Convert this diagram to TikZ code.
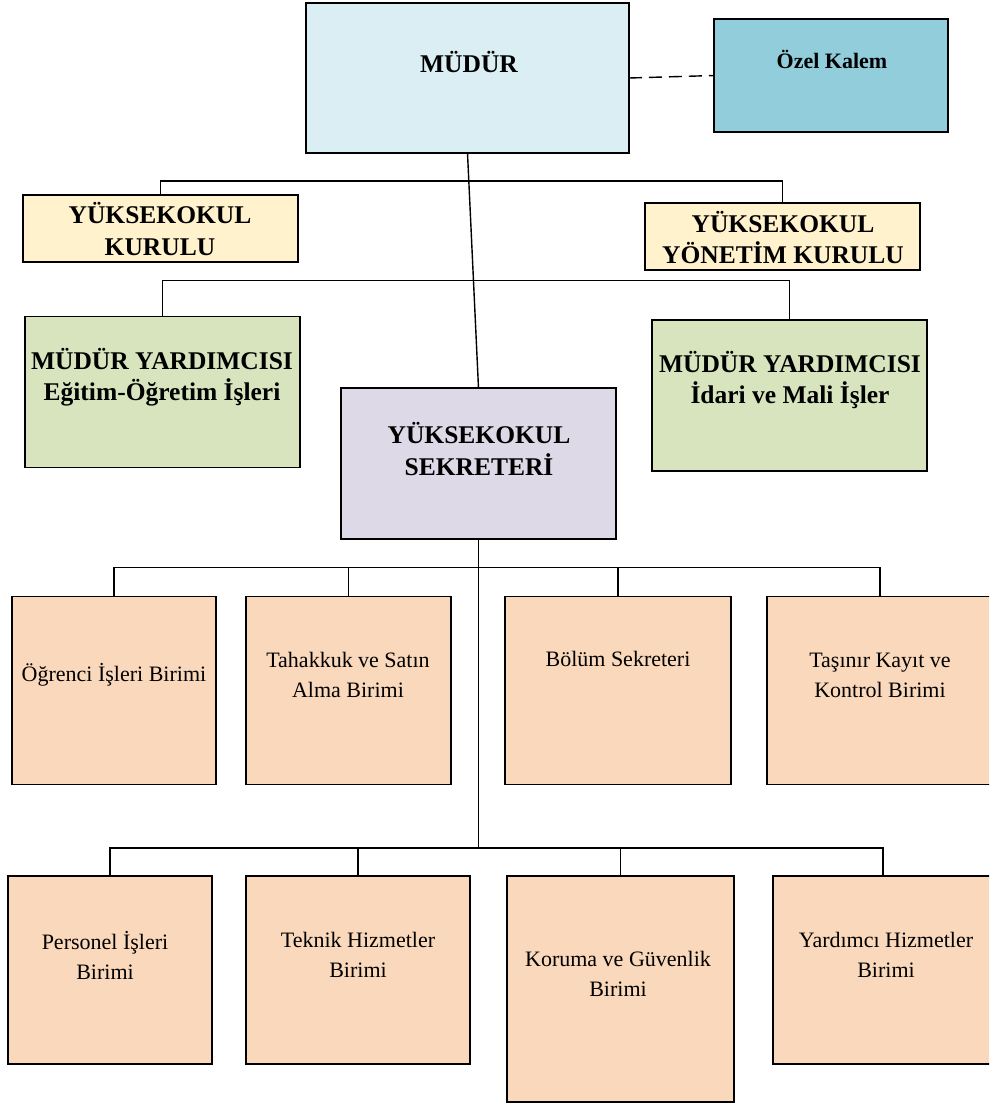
\documentclass[tikz,border=0pt]{standalone}
\usepackage{fontspec}
\setmainfont{Liberation Serif}
\usetikzlibrary{positioning}
\definecolor{mudurblue}{HTML}{DAEEF3}
\definecolor{kalemblue}{HTML}{92CDDC}
\definecolor{kurulcream}{HTML}{FFF2CC}
\definecolor{yardgreen}{HTML}{D7E4BD}
\definecolor{seklilac}{HTML}{DED9E7}
\definecolor{birimpeach}{HTML}{FAD8BB}

\begin{document}
\begin{tikzpicture}[x=1pt, y=-1pt,
    orgBox/.style={rectangle, draw=black, line width=1.8pt, inner sep=0pt, outer sep=0pt},
    mudurBox/.style={orgBox, fill=mudurblue},
    kalemBox/.style={orgBox, fill=kalemblue},
    kurulBox/.style={orgBox, fill=kurulcream, minimum width=275pt, minimum height=67pt},
    yardBox/.style={orgBox, fill=yardgreen, minimum width=275pt, minimum height=151pt},
    sekBox/.style={orgBox, fill=seklilac, minimum width=275pt, minimum height=151pt},
    birimBox/.style={orgBox, fill=birimpeach, minimum height=188pt},
    boldTxt/.style={align=center, font=\bfseries\fontsize{25.5}{31.5}\selectfont},
    kalemTxt/.style={align=center, font=\bfseries\fontsize{22}{30}\selectfont},
    plainTxt/.style={align=center, font=\fontsize{22}{30}\selectfont},
    conn/.style={draw=black, line width=1.4pt}
]
    \clip (0,0) rectangle (989,1104);

    % ust kademe
    \node[mudurBox, minimum width=323pt, minimum height=150pt] (mudur) at (467.5, 78) {};
    \node[kalemBox, minimum width=234pt, minimum height=113pt] (kalem) at (831, 75.5) {};
    \node[kurulBox] (kurul)   at (160.5, 228.5) {};
    \node[kurulBox] (yonetim) at (782.5, 236.5) {};
    \node[yardBox] (egitim) at (162.5, 392) {};
    \node[yardBox] (idari)  at (789.5, 395.5) {};
    \node[sekBox] (sekreter) at (478.5, 463.5) {};

    \node[boldTxt]  (mudur-t)    at (469, 62)    {MÜDÜR};
    \node[kalemTxt] (kalem-t)    at (832, 59)    {Özel Kalem};
    \node[boldTxt]  (kurul-t)    at (160, 229)   {YÜKSEKOKUL\\KURULU};
    \node[boldTxt]  (yonetim-t)  at (783, 237.5) {YÜKSEKOKUL\\YÖNETİM KURULU};
    \node[boldTxt]  (egitim-t)   at (162, 377)   {MÜDÜR YARDIMCISI\\Eğitim-Öğretim İşleri};
    \node[boldTxt]  (idari-t)    at (790, 380)   {MÜDÜR YARDIMCISI\\İdari ve Mali İşler};
    \node[boldTxt]  (sekreter-t) at (479, 449)   {YÜKSEKOKUL\\SEKRETERİ};

    % birimler
    \node[birimBox, minimum width=204pt] (ogrenci)  at (114, 690.5) {};
    \node[birimBox, minimum width=205pt] (tahakkuk) at (348.5, 690.5) {};
    \node[birimBox, minimum width=226pt] (bolum)    at (618, 690.5) {};
    \node[birimBox, minimum width=226pt] (tasinir)  at (880, 690.5) {};
    \node[birimBox, minimum width=204pt] (personel) at (110, 970) {};
    \node[birimBox, minimum width=224pt] (teknik)   at (358, 970) {};
    \node[birimBox, minimum width=227pt, minimum height=226pt] (koruma) at (620.5, 989) {};
    \node[birimBox, minimum width=220pt] (yardimci) at (883, 970) {};

    \node[plainTxt] (ogrenci-t)  at (114, 675)   {Öğrenci İşleri Birimi};
    \node[plainTxt] (tahakkuk-t) at (348, 675)   {Tahakkuk ve Satın\\Alma Birimi};
    \node[plainTxt] (bolum-t)    at (618, 659)   {Bölüm Sekreteri};
    \node[plainTxt] (tasinir-t)  at (880, 675)   {Taşınır Kayıt ve\\Kontrol Birimi};
    \node[plainTxt] (personel-t) at (105, 955)   {Personel İşleri\\Birimi};
    \node[plainTxt] (teknik-t)   at (358, 955)   {Teknik Hizmetler\\Birimi};
    \node[plainTxt] (koruma-t)   at (618, 973.5) {Koruma ve Güvenlik\\Birimi};
    \node[plainTxt] (yardimci-t) at (886, 955)   {Yardımcı Hizmetler\\Birimi};

    % baglantilar
    \coordinate (bus2) at (0, 848);
    \draw[conn, dashed, dash pattern=on 13pt off 7pt] (mudur.east) -- (kalem.west);
    \draw[conn] (mudur.south) -- (sekreter.north);
    \draw[conn] (kurul.north) -- ++(0,-14) -| (yonetim.north);
    \draw[conn] (egitim.north) -- ++(0,-36) -| (idari.north);
    \draw[conn] (sekreter.south) -- (sekreter.south |- bus2);
    \draw[conn] (ogrenci.north) -- ++(0,-29) -| (tasinir.north);
    \draw[conn] (tahakkuk.north) -- ++(0,-29);
    \draw[conn] (bolum.north) -- ++(0,-29);
    \draw[conn] (personel.north) -- ++(0,-28) -| (yardimci.north);
    \draw[conn] (teknik.north) -- ++(0,-28);
    \draw[conn] (koruma.north) -- ++(0,-28);
\end{tikzpicture}
\end{document}
